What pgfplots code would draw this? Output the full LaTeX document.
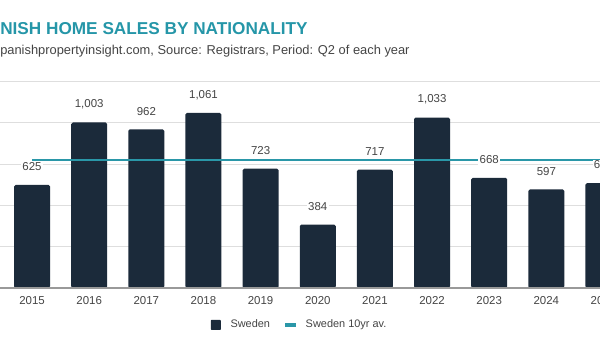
\documentclass[border=0pt]{standalone}
\usepackage{fontspec}
\setmainfont{Liberation Sans}
\usepackage{pgfplots}
\pgfplotsset{compat=1.18}
\definecolor{barc}{HTML}{1B2A3A}
\definecolor{avgc}{HTML}{2A97A8}
\definecolor{ttlc}{HTML}{2596A8}
\definecolor{txtc}{HTML}{444444}
\begin{document}
\begin{tikzpicture}
\useasboundingbox (0,0) rectangle (450pt,262.5pt);
\clip (0,0) rectangle (450pt,262.5pt);
\node[anchor=base west, inner sep=0pt, font=\fontsize{12.9pt}{14pt}\selectfont\bfseries, text=ttlc] at (0,236.25pt) {NISH HOME SALES BY NATIONALITY};
\node[anchor=base west, inner sep=0pt, font=\fontsize{9.65pt}{11pt}\selectfont, text=txtc] at (0,221.5pt) {panishpropertyinsight.com, Source: Registrars, Period: Q2 of each year};
\begin{axis}[
  at={(-18.83pt,46.5pt)}, anchor=south west,
  scale only axis, width=514.3pt, height=154.7pt,
  xmin=-1, xmax=11, ymin=0, ymax=1250,
  axis line style={draw=none},
  major tick length=0pt,
  xtick={0,...,10},
  xticklabels={2015,2016,2017,2018,2019,2020,2021,2022,2023,2024,2025},
  xticklabel style={anchor=north, inner sep=0pt, yshift=-6pt, text=txtc, font=\fontsize{8.6pt}{10pt}\selectfont},
  ytick={250,500,750,1000,1250},
  yticklabels={},
  ymajorgrids,
  major grid style={draw=black!13, line width=0.75pt},
  /pgf/number format/assume math mode=true,
  clip=false,
  legend style={at={(0.474,-0.179)}, anchor=center, draw=none, fill=none,
    legend columns=2, font=\fontsize{8.2pt}{10pt}\selectfont, text=txtc,
    /tikz/every even column/.append style={column sep=8pt},
    inner sep=0pt},
  legend cell align=left,
]
\addplot[ybar, bar width=27pt, fill=barc, draw=none, rounded corners=1.2pt,
  legend image code/.code={\fill[barc, rounded corners=0.5pt] (0pt,-3.75pt) rectangle (7.5pt,3.75pt); \path (12.8pt,0pt);}]
  coordinates {(0,625) (1,1003) (2,962) (3,1061) (4,723) (5,384) (6,717) (7,1033) (8,668) (9,597) (10,636)};
\addlegendentry{Sweden}
\addplot[avgc, line width=1.5pt,
  legend image code/.code={\draw[avgc, line width=2.4pt] (0pt,0pt) -- (8.4pt,0pt); \path (12.8pt,0pt);}]
  coordinates {(0,777.3) (10,777.3)};
\addlegendentry{Sweden 10yr av.}
\addplot[draw=none, mark=none, forget plot,
  nodes near coords={\pgfmathprintnumber[1000 sep={,}]{\pgfplotspointmeta}},
  every node near coord/.append style={anchor=center, yshift=13.5pt, fill=white, inner sep=1pt, text=txtc, font=\fontsize{8.6pt}{10pt}\selectfont}]
  coordinates {(0,625) (1,1003) (2,962) (3,1061) (4,723) (5,384) (6,717) (7,1033) (8,668) (9,597) (10,636)};
\draw[black!40, line width=1pt] (axis cs:-1,0) -- (axis cs:11,0);
\end{axis}
\end{tikzpicture}
\end{document}
